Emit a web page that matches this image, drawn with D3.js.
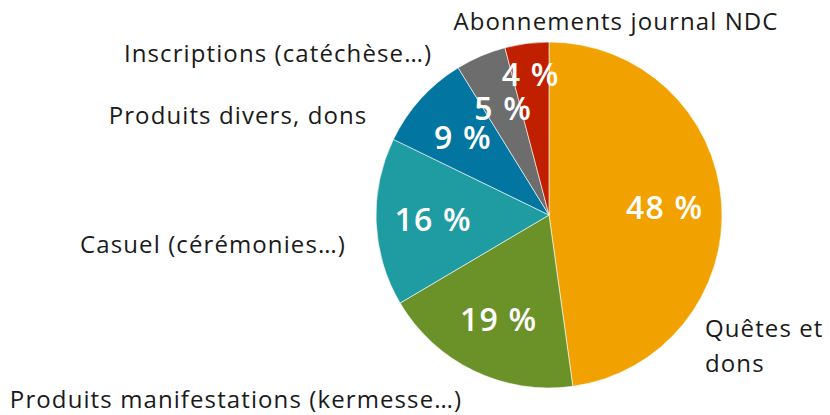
<!DOCTYPE html>
<html>
<head>
<meta charset="utf-8">
<script src="https://cdn.jsdelivr.net/npm/d3@7"></script>
<style>
  body { margin: 0; background: #fff; }
  text { font-family: "Open Sans", sans-serif; }
</style>
</head>
<body>
<div id="chart"></div>
<script>
const categories = ["Quêtes et dons", "Produits manifestations (kermesse…)", "Casuel (cérémonies…)",
  "Produits divers, dons", "Inscriptions (catéchèse…)", "Abonnements journal NDC"];
const values = [47.8, 18.7, 15.7, 9.0, 4.7, 4.1];
const pctLabels = ["48 %", "19 %", "16 %", "9 %", "5 %", "4 %"];
const colors = ["#F2A200", "#6B9228", "#1F9BA2", "#0276A1", "#6D6D6D", "#C01F00"];

const width = 830, height = 415;
const cx = 549, cy = 215, radius = 173;

// outer label placement (relative to pie centre), lines split by "\n"
const outerLabels = [
  { text: "Quêtes et\ndons", x: 156, y: 122, anchor: "start" },
  { text: "Produits manifestations (kermesse…)", x: -313, y: 193, anchor: "middle" },
  { text: "Casuel (cérémonies…)", x: -336, y: 38, anchor: "middle" },
  { text: "Produits divers, dons", x: -311, y: -91, anchor: "middle" },
  { text: "Inscriptions (catéchèse…)", x: -271, y: -153, anchor: "middle" },
  { text: "Abonnements journal NDC", x: 67, y: -185, anchor: "middle" }
];

const svg = d3.select("#chart").append("svg")
    .attr("width", width)
    .attr("height", height);

const g = svg.append("g")
    .attr("transform", "translate(" + cx + "," + cy + ")");

const pie = d3.pie().sort(null).value(d => d)(values);
const arc = d3.arc().innerRadius(0).outerRadius(radius);

g.selectAll("path")
    .data(pie)
    .enter().append("path")
    .attr("d", arc)
    .attr("fill", (d, i) => colors[i])
    .attr("stroke", "#fff")
    .attr("stroke-width", 0.6);

// percentage labels inside the slices, small slices pushed outward
const inner = d3.arc().innerRadius(116).outerRadius(116);
const innerFar = d3.arc().innerRadius(142).outerRadius(142);
g.selectAll(".pct")
    .data(pie)
    .enter().append("text")
    .attr("class", "pct")
    .attr("transform", d => "translate(" + (d.data < 4.5 ? innerFar : inner).centroid(d) + ")")
    .attr("text-anchor", "middle")
    .attr("dy", "0.36em")
    .attr("fill", "#fff")
    .style("font-size", "32px")
    .style("font-weight", "600")
    .style("letter-spacing", "1.2px")
    .text((d, i) => pctLabels[i]);

// category labels
outerLabels.forEach((l, i) => {
  const t = g.append("text")
      .attr("x", l.x)
      .attr("y", l.y)
      .attr("text-anchor", l.anchor)
      .attr("fill", "#1a1a1a")
      .style("font-size", "24px")
      .style("letter-spacing", "1.1px");
  l.text.split("\n").forEach((line, j) => {
    t.append("tspan").attr("x", l.x).attr("dy", j === 0 ? 0 : 35).text(line);
  });
});
</script>
</body>
</html>
